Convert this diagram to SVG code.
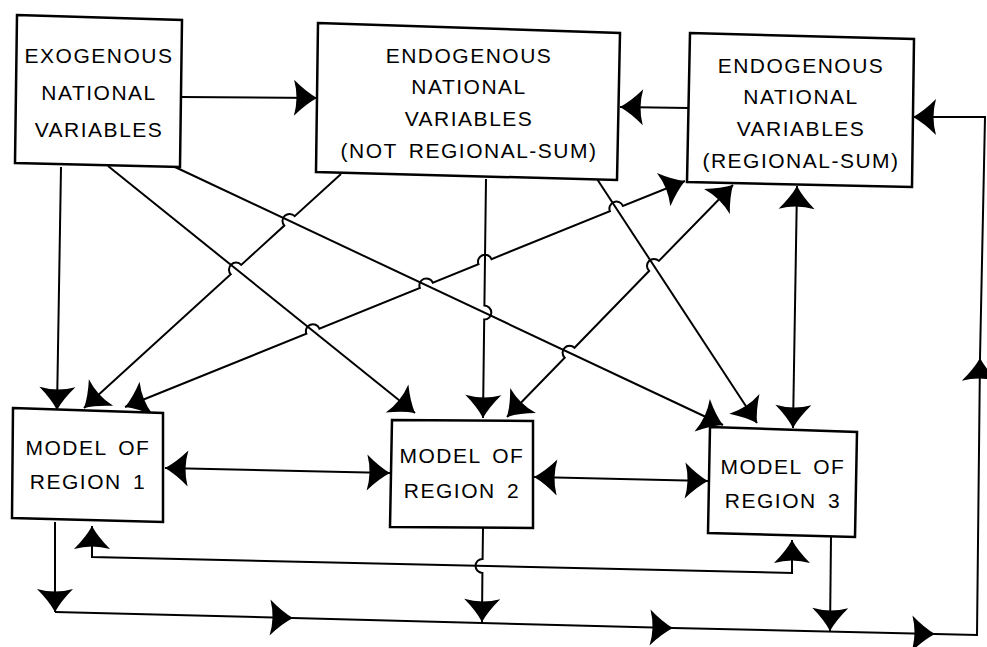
<svg xmlns="http://www.w3.org/2000/svg" width="987" height="647" viewBox="0 0 987 647">
<defs>
<style>
.box{fill:#fff;stroke:#000;stroke-width:2.5;stroke-linejoin:miter}
.t{font-family:"Liberation Sans",Arial,sans-serif;font-size:21px;letter-spacing:1.5px;word-spacing:4px;text-anchor:middle;fill:#000}
.c{fill:none;stroke:#000;stroke-width:2}
.a1{marker-end:url(#ah)}
.a2{marker-start:url(#ah);marker-end:url(#ah)}
</style>
<marker id="ah" viewBox="-26 -20 28 40" refX="0" refY="0" markerWidth="28" markerHeight="40" markerUnits="userSpaceOnUse" orient="auto-start-reverse">
<path d="M0,0 Q-11,-6 -23,-18 Q-18,0 -23,18 Q-11,6 0,0 Z" fill="#000"/>
</marker>
</defs>
<rect width="987" height="647" fill="#fff"/>

<g id="connectors">
<!-- exogenous to endogenous (not regional-sum) -->
<path class="c a1" d="M181,97 L317,98"/>
<!-- regional-sum to not regional-sum -->
<path class="c a1" d="M689,108 L620,107"/>
<!-- exogenous to regions -->
<path class="c a1" d="M61,167 L57,410"/>
<path class="c a1" d="M108,166 L415,413"/>
<path class="c a1" d="M175,167 L723,425"/>
<!-- not regional-sum to regions -->
<path class="c a1" d="M341,174 L294.7,216.2 A7,7 0 0 0 284.3,225.6 L241.2,264.9 A7,7 0 0 0 230.8,274.3 L84,408"/>
<path class="c a1" d="M486,179 L484.4,305.6 A7,7 0 0 1 484.2,319.6 L483,418"/>
<path class="c a1" d="M597,179 L757,423"/>
<!-- regions to/from regional-sum -->
<path class="c a2" d="M125,407 L306.4,333.8 A7,7 0 0 1 319.4,328.6 L419.9,288 A7,7 0 0 1 432.9,282.8 L478.5,264.3 A7,7 0 0 1 491.5,259.1 L609.9,211.2 A7,7 0 0 1 622.9,206 L685,181"/>
<path class="c a2" d="M507,417 L564.7,357.8 A7,7 0 0 1 574.5,347.8 L649.1,270.9 A7,7 0 0 1 658.9,260.9 L733,185"/>
<path class="c a2" d="M797,186 L793,428"/>
<!-- between regions -->
<path class="c a2" d="M165,468 L390,473"/>
<path class="c a2" d="M534,477 L708,481"/>
<path class="c a2" d="M92,526 L92,557 L792,573 L792,540"/>
<!-- regions down to bus -->
<path class="c a1" d="M55,522 L55,612"/>
<path class="c a1" d="M483,528 L482.6,558.9 A7,7 0 0 0 482.4,572.9 L482,622"/>
<path class="c a1" d="M831,537 L830,631"/>
<!-- bus and return -->
<path class="c a1" d="M55,612 L293,618"/>
<path class="c a1" d="M293,618 L673,628"/>
<path class="c a1" d="M673,628 L935,634"/>
<path class="c a1" d="M935,634 L977,635 L980,358"/>
<path class="c a1" d="M980,358 L985,117 L913,117"/>
</g>

<g id="exogenous">
<polygon class="box" points="17,15 182,20 180,167 15,163"/>
<text class="t"><tspan x="99" y="63">EXOGENOUS</tspan><tspan x="99" y="100">NATIONAL</tspan><tspan x="99" y="137">VARIABLES</tspan></text>
</g>
<g id="endo-not-sum">
<polygon class="box" points="318,23 620,33 617,180 316,172"/>
<text class="t"><tspan x="469" y="63">ENDOGENOUS</tspan><tspan x="469" y="94">NATIONAL</tspan><tspan x="469" y="126">VARIABLES</tspan><tspan x="469" y="158">(NOT REGIONAL-SUM)</tspan></text>
</g>
<g id="endo-sum">
<polygon class="box" points="690,33 914,39 912,187 687,182"/>
<text class="t"><tspan x="801" y="73">ENDOGENOUS</tspan><tspan x="801" y="104">NATIONAL</tspan><tspan x="801" y="136">VARIABLES</tspan><tspan x="801" y="168">(REGIONAL-SUM)</tspan></text>
</g>
<g id="region1">
<polygon class="box" points="13,408 163,413 163,522 12,518"/>
<text class="t"><tspan x="88" y="455">MODEL OF</tspan><tspan x="88" y="489">REGION 1</tspan></text>
</g>
<g id="region2">
<polygon class="box" points="392,420 533,421 533,528 390,527"/>
<text class="t"><tspan x="462" y="463">MODEL OF</tspan><tspan x="462" y="498">REGION 2</tspan></text>
</g>
<g id="region3">
<polygon class="box" points="710,427 857,432 855,537 708,533"/>
<text class="t"><tspan x="783" y="474">MODEL OF</tspan><tspan x="783" y="508">REGION 3</tspan></text>
</g>
</svg>
